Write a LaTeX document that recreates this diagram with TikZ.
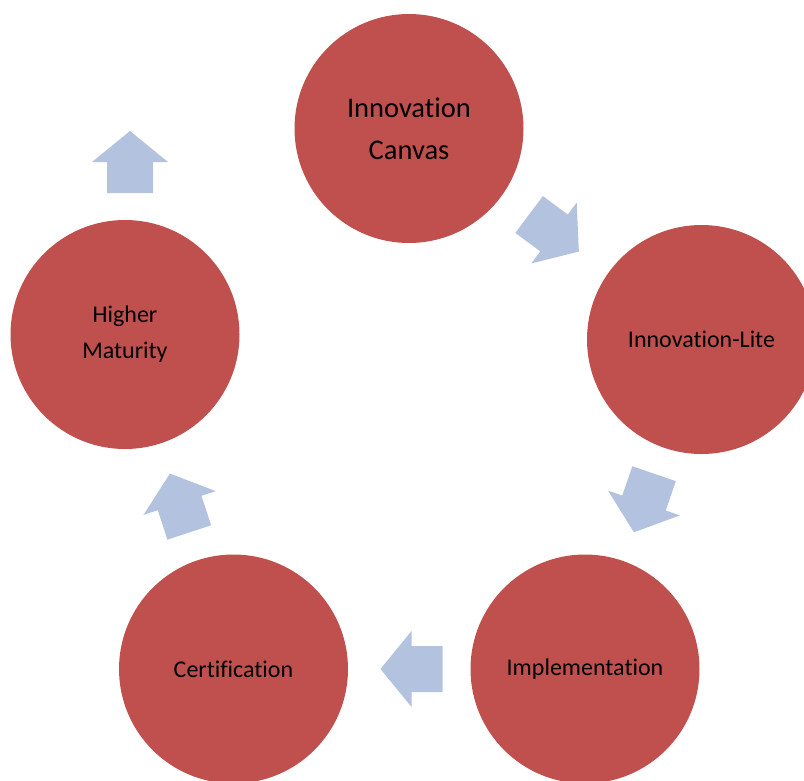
\documentclass[tikz,border=0pt]{standalone}
\usepackage{fontspec}
\setmainfont{Carlito}[Ligatures=NoCommon]
\definecolor{circred}{HTML}{C0504D}
\definecolor{arrblue}{HTML}{B3C3DF}
\newcommand\blockarr[4]{\fill[blockarrow,shift={(#2,#3)},rotate=#4] (-31,-23) -- (0,-23) -- (0,-38) -- (31,0) -- (0,38) -- (0,23) -- (-31,23) -- cycle;}
\begin{document}
\begin{tikzpicture}[x=1pt,y=1pt,
  stage/.style={circle, fill=circred, minimum size=229pt, inner sep=0pt, text=black, align=center, font=\fontsize{24}{36}\selectfont},
  blockarrow/.style={fill=arrblue}]
\useasboundingbox (0,0) rectangle (804,-780);
\node[stage, font=\fontsize{28.5}{42}\selectfont] (canvas) at (409,-128.5) {Innovation\\Canvas};
\node[stage] (lite) at (701.5,-339.5) {Innovation-Lite};
\node[stage] (impl) at (585,-669) {Implementation};
\node[stage] (cert) at (233.5,-669) {Certification};
\node[stage] (higher) at (125,-334.5) {Higher\\Maturity};
\blockarr{a1}{130}{-162}{90}
\blockarr{a2}{554}{-233}{-36.7}
\blockarr{a3}{644}{-503}{-109}
\blockarr{a4}{411.5}{-669}{180}
\blockarr{a5}{179.6}{-503}{108.2}
\end{tikzpicture}
\end{document}
